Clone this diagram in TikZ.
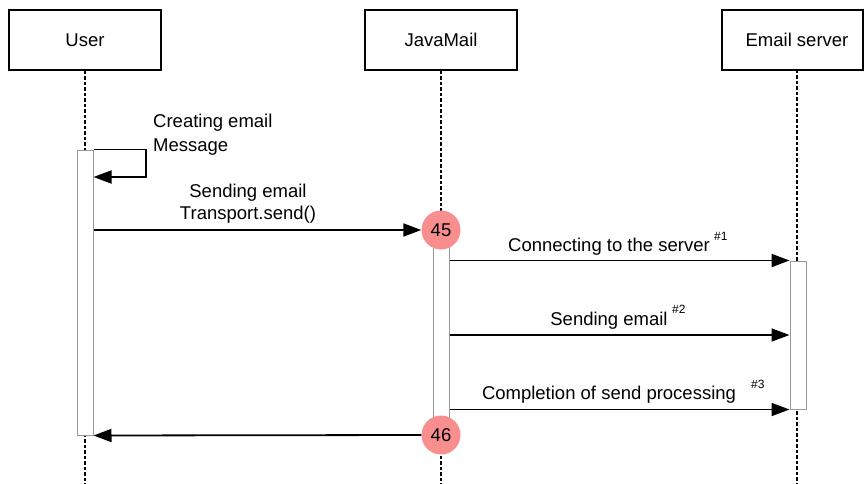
\documentclass[tikz,border=0pt]{standalone}
\usepackage{fontspec}
\setmainfont{Liberation Sans}
\usetikzlibrary{arrows.meta}
\definecolor{badgecol}{HTML}{F88E8E}
\begin{document}
\begin{tikzpicture}[x=1pt,y=-1pt,
 actor/.style={draw=black, line width=1.8pt, minimum width=152pt, minimum height=60pt, inner sep=0pt, font=\fontsize{18.5}{22}\selectfont},
 life/.style={line width=1.8pt, dash pattern=on 3.5pt off 2pt},
 bar/.style={draw=gray!80, fill=white, line width=1pt, minimum width=16pt, inner sep=0pt},
 msg/.style={line width=1.8pt, -{Triangle[length=18pt,width=13pt]}},
 lbl/.style={font=\fontsize{18.5}{22}\selectfont, inner sep=0pt},
 suplbl/.style={font=\fontsize{12}{14}\selectfont, inner sep=0pt, anchor=base west},
 badge/.style={circle, fill=badgecol, minimum size=39pt, inner sep=0pt, font=\fontsize{18.5}{22}\selectfont}]
\useasboundingbox (0,0) rectangle (864,484);
% actors
\node[actor] (user) at (85,40) {User};
\node[actor] (jm) at (441,40) {JavaMail};
\node[actor, minimum width=141pt] (srv) at (792.5,40) {};
\node[lbl] (srvtxt) at (797,40) {Email server};
\coordinate (srvtop) at (797,70);
\coordinate (srvend) at (797,484);
\coordinate (userend) at (85,484);
\coordinate (jmend) at (441,484);
% lifelines
\draw[life] (user.south) -- (userend);
\draw[life] (jm.south) -- (jmend);
\draw[life] (srvtop) -- (srvend);
% activation bars
\node[bar, minimum height=285pt] (ubar) at (85,292.5) {};
\node[bar, minimum height=200pt] (jbar) at (441,335) {};
\node[bar, minimum height=148pt] (sbar) at (798,335) {};
% self message
\coordinate (selfc) at (146,177);
\draw[msg] (ubar.north east) -| (selfc) -- (ubar.east |- selfc);
\node[lbl, anchor=base west] (t1a) at (153,128) {Creating email};
\node[lbl, anchor=base west] (t1b) at (153,151) {Message};
% badges
\node[badge] (c45) at (441,230) {45};
\node[badge] (c46) at (441,435) {46};
% send call
\draw[msg] (ubar.east |- c45) -- (c45.west);
\node[lbl, anchor=base] (t2a) at (248,197) {Sending email};
\node[lbl, anchor=base] (t2b) at (248,219) {Transport.send()};
% server messages
\draw[msg] (jbar.east |- sbar.north) -- (sbar.north west);
\draw[msg] (jbar.east |- sbar.west) -- (sbar.west);
\draw[msg] (jbar.east |- sbar.south) -- (sbar.south west);
\node[lbl, anchor=base] (l1) at (609,251) {Connecting to the server};
\node[suplbl] (s1) at (714,240) {\#1};
\node[lbl, anchor=base] (l2) at (609,325) {Sending email};
\node[suplbl] (s2) at (672,313) {\#2};
\node[lbl, anchor=base] (l3) at (609,399) {Completion of send processing};
\node[suplbl] (s3) at (751,388) {\#3};
% return
\draw[msg] (c46.west) -- (ubar.south east);
\end{tikzpicture}
\end{document}
